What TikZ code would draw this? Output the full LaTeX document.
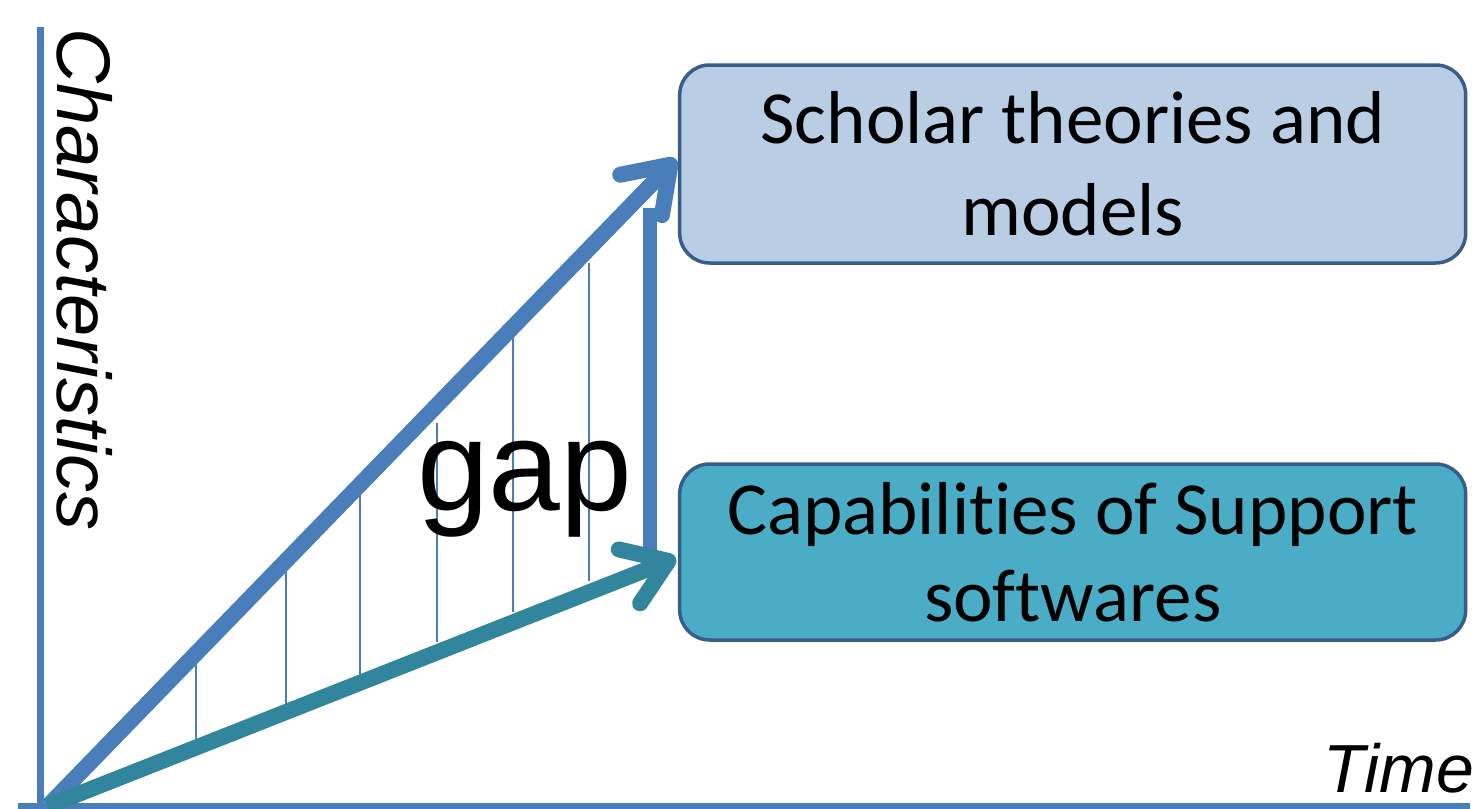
\documentclass[tikz,border=0pt]{standalone}
\usepackage{fontspec}
\setmainfont[Ligatures=NoCommon]{Carlito}
\newfontfamily\arialfont{Liberation Sans}
\usetikzlibrary{arrows.meta}
\definecolor{axisblue}{HTML}{4A7EBB}
\definecolor{arrteal}{HTML}{31859C}
\definecolor{boxline}{HTML}{385D8A}
\definecolor{topfill}{HTML}{B9CDE5}
\definecolor{botfill}{HTML}{4BACC6}
\begin{document}
\begin{tikzpicture}[x=1pt,y=-1pt,
  axis/.style={draw=axisblue, line width=7pt},
  growth/.style={line width=16pt, -{Straight Barb[length=42pt,width=58pt,line cap=round,line join=round]}},
  gapline/.style={draw=axisblue, line width=14pt},
  hatch/.style={draw=axisblue, line width=2pt},
  databox/.style={draw=boxline, line width=3.5pt, rounded corners=30pt, minimum width=786pt, align=center, inner sep=0pt},
  axlabel/.style={font=\arialfont\itshape\fontsize{#1}{#1}\selectfont, inner sep=0pt},
]
\useasboundingbox (0,0) rectangle (1479,808);

% hatch lines
\foreach \hx/\ht/\hb [count=\i] in {196/658/740, 286/568/717, 360/492/682, 437/423/642, 513/337/612, 589/263/581}{
  \coordinate (h\i t) at (\hx,\ht);
  \coordinate (h\i b) at (\hx,\hb);
  \draw[hatch] (h\i t) -- (h\i b);
}

% axes
\coordinate (ytop) at (40.5,27);
\coordinate (ybot) at (40.5,810);
\coordinate (xl) at (18,806.5);
\coordinate (xr) at (1470,806.5);
\draw[axis] (ytop) -- (ybot);
\draw[axis] (xl) -- (xr);

% boxes
\node[databox, fill=topfill, minimum height=198pt, font=\fontsize{75}{92}\selectfont] (theory) at (1072.7,164) {Scholar theories and\\models};
\node[databox, fill=botfill, minimum height=176pt, font=\fontsize{75}{87}\selectfont] (support) at (1072.7,552) {Capabilities of Support\\softwares};

% gap marker
\coordinate (gapbot) at (650,557);
\coordinate (gaptop) at (650,208);
\draw[gapline] (gapbot) -- (gaptop);

% growth arrows
\coordinate (O) at (48,806);
\draw[growth, draw=axisblue] (O) -- ([shift={(-2,-5)}]theory.west);
\draw[growth, draw=arrteal] (O) -- ([shift={(-2,6)}]support.west);

% labels
\node[axlabel=76, rotate=-90, anchor=base west] (ylabel) at (57,28) {Characteristics};
\node[axlabel=68, anchor=base east] (xlabel) at (1474,792) {Time};
\node[font=\arialfont\fontsize{129}{129}\selectfont, inner sep=0pt, anchor=base west] (gaplabel) at (417,510) {gap};
\end{tikzpicture}
\end{document}
